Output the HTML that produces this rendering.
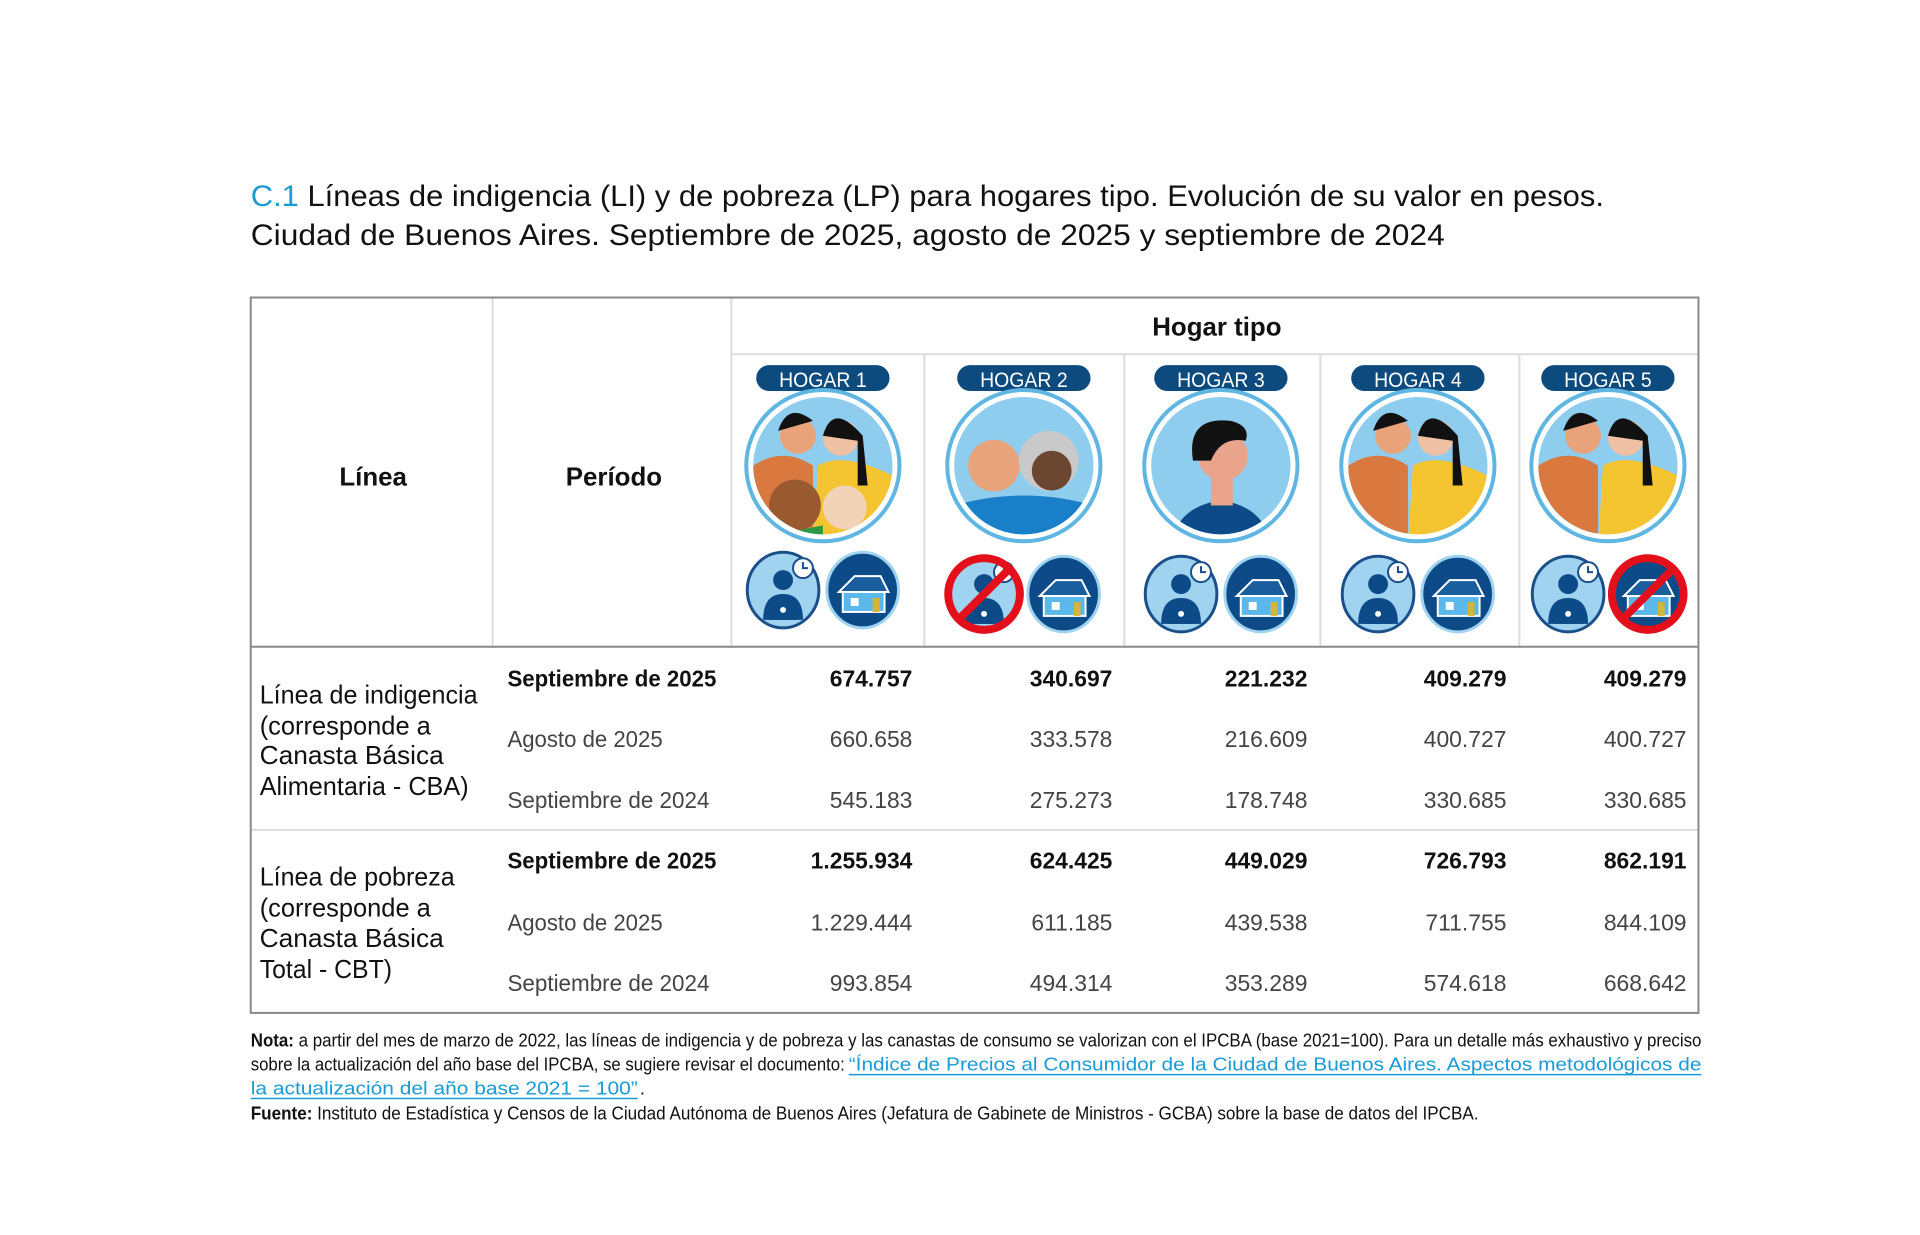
<!DOCTYPE html>
<html><head><meta charset="utf-8"><style>
html,body{margin:0;padding:0;background:#fff;}
svg{display:block;}
text{font-family:"Liberation Sans",sans-serif;}
</style></head><body>
<svg width="1920" height="1235" viewBox="0 0 1920 1235" xmlns="http://www.w3.org/2000/svg">
<defs>
  <g id="big">
    <ellipse cx="0" cy="0" rx="77" ry="76" fill="#fff" stroke="#5fb6e3" stroke-width="4"/>
    <ellipse cx="0" cy="0" rx="70" ry="69" fill="#8fcdee"/>
  </g>
  <clipPath id="bc"><ellipse cx="0" cy="0" rx="70" ry="69"/></clipPath>
  <g id="work">
    <ellipse cx="0" cy="0" rx="36" ry="38" fill="#9fd3f0" stroke="#1b4f8a" stroke-width="3"/>
    <circle cx="0" cy="-10" r="10" fill="#0d4a88"/>
    <path d="M-20 30 Q-20 4 0 4 Q20 4 20 30 Z" fill="#0d4a88"/>
    <rect x="-14" y="10" width="28" height="20" fill="#0d4a88"/>
    <circle cx="0" cy="20" r="3" fill="#fff"/>
    <circle cx="20" cy="-22" r="10" fill="#fff" stroke="#1b4f8a" stroke-width="2"/>
    <path d="M20 -28 V-22 H25" stroke="#1b4f8a" stroke-width="2" fill="none"/>
  </g>
  <g id="house">
    <ellipse cx="0" cy="0" rx="36" ry="38" fill="#0d4a88" stroke="#9fd3f0" stroke-width="3"/>
    <path d="M-24 2 L-8 -14 H18 L26 2 Z" fill="#1b5e9e" stroke="#fff" stroke-width="2"/>
    <rect x="-20" y="2" width="42" height="20" fill="#5ab8ea" stroke="#fff" stroke-width="2"/>
    <rect x="10" y="8" width="7" height="14" fill="#d4b43a"/>
    <rect x="-12" y="8" width="8" height="8" fill="#fff"/>
  </g>
  <g id="no">
    <circle cx="0" cy="0" r="36" fill="none" stroke="#e3101c" stroke-width="8"/>
    <line x1="25" y1="-25" x2="-25" y2="25" stroke="#e3101c" stroke-width="8"/>
  </g>
  <g id="badge">
    <rect x="-67" y="-13" width="134" height="26" rx="13" fill="#0d4a7e"/>
  </g>
  <g id="couple">
    <path d="M-70 80 L-70 0 Q-40 -20 -10 0 L-10 80 Z" fill="#d9793f"/>
    <path d="M-10 80 L-5 0 Q20 -15 70 10 L70 80 Z" fill="#f5c531"/>
    <circle cx="-25" cy="-30" r="18" fill="#e8a37a"/>
    <path d="M-45 -35 Q-35 -65 -10 -45 Z" fill="#111"/>
    <circle cx="18" cy="-28" r="18" fill="#eec1a4"/>
    <path d="M0 -30 Q10 -65 40 -30 L45 20 L35 20 L35 -25 Z" fill="#111"/>
  </g>
</defs>
<g transform="scale(0.995)">
<!-- Title -->
<text x="252" y="207" font-size="30" fill="#111" textLength="1360" lengthAdjust="spacingAndGlyphs"><tspan fill="#1a9ad6">C.1</tspan> Líneas de indigencia (LI) y de pobreza (LP) para hogares tipo. Evolución de su valor en pesos.</text>
<text x="252" y="246" font-size="30" fill="#111" textLength="1200" lengthAdjust="spacingAndGlyphs">Ciudad de Buenos Aires. Septiembre de 2025, agosto de 2025 y septiembre de 2024</text>

<!-- Table lines -->
<g stroke="#dcdcdc" stroke-width="2">
  <line x1="495" y1="300" x2="495" y2="650"/>
  <line x1="735" y1="300" x2="735" y2="650"/>
  <line x1="735" y1="356" x2="1706" y2="356"/>
  <line x1="929" y1="356" x2="929" y2="650"/>
  <line x1="1130" y1="356" x2="1130" y2="650"/>
  <line x1="1327" y1="356" x2="1327" y2="650"/>
  <line x1="1527" y1="356" x2="1527" y2="650"/>
  <line x1="252" y1="834" x2="1707" y2="834"/>
</g>
<rect x="252" y="299" width="1455" height="719" fill="none" stroke="#888" stroke-width="2"/>
<line x1="252" y1="650" x2="1707" y2="650" stroke="#888" stroke-width="2"/>

<text x="375" y="488" font-size="26" font-weight="bold" text-anchor="middle" fill="#111">Línea</text>
<text x="617" y="488" font-size="26" font-weight="bold" text-anchor="middle" fill="#111">Período</text>
<text x="1223" y="337" font-size="26" font-weight="bold" text-anchor="middle" fill="#111">Hogar tipo</text>

<!-- Hogar 1 -->
<g transform="translate(827,0)">
  <use href="#badge" y="380"/>
  <text x="-44" y="389" font-size="21" fill="#fff" textLength="88" lengthAdjust="spacingAndGlyphs">HOGAR 1</text>
  <g transform="translate(0,468)"><use href="#big"/><g clip-path="url(#bc)"><use href="#couple"/><circle cx="-28" cy="40" r="26" fill="#9a5a30"/><circle cx="22" cy="42" r="22" fill="#f2d3b8"/><path d="M-50 70 L0 60 L0 80 L-50 80Z" fill="#2a9a45"/></g></g>
  <use href="#work" x="-40" y="593"/>
  <use href="#house" x="40" y="593"/>
</g>
<!-- Hogar 2 -->
<g transform="translate(1029,0)">
  <use href="#badge" y="380"/>
  <text x="-44" y="389" font-size="21" fill="#fff" textLength="88" lengthAdjust="spacingAndGlyphs">HOGAR 2</text>
  <g transform="translate(0,468)"><use href="#big"/><g clip-path="url(#bc)">
    <path d="M-70 80 L-70 40 Q0 20 70 40 L70 80 Z" fill="#1a7fc9"/>
    <circle cx="-30" cy="0" r="26" fill="#e8a37a"/>
    <circle cx="25" cy="-5" r="30" fill="#c9c9c9"/>
    <circle cx="28" cy="5" r="20" fill="#6b4630"/>
  </g></g>
  <use href="#work" x="-40" y="597"/>
  <use href="#no" x="-40" y="597"/>
  <use href="#house" x="40" y="597"/>
</g>
<!-- Hogar 3 -->
<g transform="translate(1227,0)">
  <use href="#badge" y="380"/>
  <text x="-44" y="389" font-size="21" fill="#fff" textLength="88" lengthAdjust="spacingAndGlyphs">HOGAR 3</text>
  <g transform="translate(0,468)"><use href="#big"/><g clip-path="url(#bc)">
    <path d="M-50 75 Q-40 40 0 35 Q40 40 50 75 Z" fill="#0d4a88"/>
    <rect x="-10" y="10" width="22" height="30" fill="#eba48c"/>
    <circle cx="2" cy="-10" r="25" fill="#eba48c"/>
    <path d="M-28 -5 Q-35 -50 10 -45 Q30 -40 25 -25 Q0 -30 -10 -5 Z" fill="#111"/>
  </g></g>
  <use href="#work" x="-40" y="597"/>
  <use href="#house" x="40" y="597"/>
</g>
<!-- Hogar 4 -->
<g transform="translate(1425,0)">
  <use href="#badge" y="380"/>
  <text x="-44" y="389" font-size="21" fill="#fff" textLength="88" lengthAdjust="spacingAndGlyphs">HOGAR 4</text>
  <g transform="translate(0,468)"><use href="#big"/><g clip-path="url(#bc)"><use href="#couple"/></g></g>
  <use href="#work" x="-40" y="597"/>
  <use href="#house" x="40" y="597"/>
</g>
<!-- Hogar 5 -->
<g transform="translate(1616,0)">
  <use href="#badge" y="380"/>
  <text x="-44" y="389" font-size="21" fill="#fff" textLength="88" lengthAdjust="spacingAndGlyphs">HOGAR 5</text>
  <g transform="translate(0,468)"><use href="#big"/><g clip-path="url(#bc)"><use href="#couple"/></g></g>
  <use href="#work" x="-40" y="597"/>
  <use href="#house" x="40" y="597"/>
  <use href="#no" x="40" y="597"/>
</g>

<!-- Row labels -->
<g font-size="26" fill="#111">
  <text x="261" y="707" textLength="219" lengthAdjust="spacingAndGlyphs">Línea de indigencia</text>
  <text x="261" y="738" textLength="172" lengthAdjust="spacingAndGlyphs">(corresponde a</text>
  <text x="261" y="768" textLength="185" lengthAdjust="spacingAndGlyphs">Canasta Básica</text>
  <text x="261" y="799" textLength="210" lengthAdjust="spacingAndGlyphs">Alimentaria - CBA)</text>
  <text x="261" y="890" textLength="196" lengthAdjust="spacingAndGlyphs">Línea de pobreza</text>
  <text x="261" y="921" textLength="172" lengthAdjust="spacingAndGlyphs">(corresponde a</text>
  <text x="261" y="952" textLength="185" lengthAdjust="spacingAndGlyphs">Canasta Básica</text>
  <text x="261" y="983" textLength="133" lengthAdjust="spacingAndGlyphs">Total - CBT)</text>
</g>

<g font-size="23">
  <text x="510" y="690" font-weight="bold" fill="#111" textLength="210" lengthAdjust="spacingAndGlyphs">Septiembre de 2025</text>
  <text x="510" y="751" fill="#444" textLength="156" lengthAdjust="spacingAndGlyphs">Agosto de 2025</text>
  <text x="510" y="812" fill="#444" textLength="203" lengthAdjust="spacingAndGlyphs">Septiembre de 2024</text>
  <text x="510" y="873" font-weight="bold" fill="#111" textLength="210" lengthAdjust="spacingAndGlyphs">Septiembre de 2025</text>
  <text x="510" y="935" fill="#444" textLength="156" lengthAdjust="spacingAndGlyphs">Agosto de 2025</text>
  <text x="510" y="996" fill="#444" textLength="203" lengthAdjust="spacingAndGlyphs">Septiembre de 2024</text>
</g>

<g font-size="23" text-anchor="end">
  <g font-weight="bold" fill="#111">
    <text x="917" y="690">674.757</text><text x="1118" y="690">340.697</text><text x="1314" y="690">221.232</text><text x="1514" y="690">409.279</text><text x="1695" y="690">409.279</text>
    <text x="917" y="873">1.255.934</text><text x="1118" y="873">624.425</text><text x="1314" y="873">449.029</text><text x="1514" y="873">726.793</text><text x="1695" y="873">862.191</text>
  </g>
  <g fill="#444">
    <text x="917" y="751">660.658</text><text x="1118" y="751">333.578</text><text x="1314" y="751">216.609</text><text x="1514" y="751">400.727</text><text x="1695" y="751">400.727</text>
    <text x="917" y="812">545.183</text><text x="1118" y="812">275.273</text><text x="1314" y="812">178.748</text><text x="1514" y="812">330.685</text><text x="1695" y="812">330.685</text>
    <text x="917" y="935">1.229.444</text><text x="1118" y="935">611.185</text><text x="1314" y="935">439.538</text><text x="1514" y="935">711.755</text><text x="1695" y="935">844.109</text>
    <text x="917" y="996">993.854</text><text x="1118" y="996">494.314</text><text x="1314" y="996">353.289</text><text x="1514" y="996">574.618</text><text x="1695" y="996">668.642</text>
  </g>
</g>

<!-- Notes -->
<g font-size="19" fill="#111">
  <text x="252" y="1052" textLength="1458" lengthAdjust="spacingAndGlyphs"><tspan font-weight="bold">Nota:</tspan> a partir del mes de marzo de 2022, las líneas de indigencia y de pobreza y las canastas de consumo se valorizan con el IPCBA (base 2021=100). Para un detalle más exhaustivo y preciso</text>
  <text x="252" y="1076" textLength="597" lengthAdjust="spacingAndGlyphs">sobre la actualización del año base del IPCBA, se sugiere revisar el documento:</text>
  <text x="853" y="1076" fill="#1a9ad6" textLength="857" lengthAdjust="spacingAndGlyphs">“Índice de Precios al Consumidor de la Ciudad de Buenos Aires. Aspectos metodológicos de</text>
  <line x1="853" y1="1080" x2="1710" y2="1080" stroke="#1a9ad6" stroke-width="1.5"/>
  <text x="252" y="1100" fill="#1a9ad6" textLength="389" lengthAdjust="spacingAndGlyphs">la actualización del año base 2021 = 100”</text>
  <line x1="252" y1="1104" x2="641" y2="1104" stroke="#1a9ad6" stroke-width="1.5"/>
  <text x="643" y="1100">.</text>
  <text x="252" y="1125" textLength="1234" lengthAdjust="spacingAndGlyphs"><tspan font-weight="bold">Fuente:</tspan> Instituto de Estadística y Censos de la Ciudad Autónoma de Buenos Aires (Jefatura de Gabinete de Ministros - GCBA) sobre la base de datos del IPCBA.</text>
</g>
</g>
</svg>
</body></html>
